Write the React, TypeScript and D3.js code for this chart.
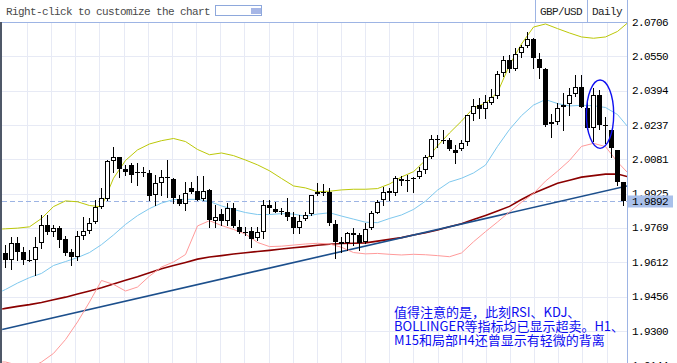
import React from "react";
import * as d3 from "d3";

const W = 677;
const H = 363;

// ---- candle data (GBP/USD daily) ----
const opens = [1.9657, 1.9623, 1.9699, 1.9661, 1.9623, 1.9623, 1.9699, 1.9782, 1.9752, 1.9767, 1.9719, 1.9661, 1.9635, 1.9734, 1.9756, 1.9797, 1.9866, 1.9901, 2.0075, 2.0090, 2.0037, 2.0055, 2.0023, 2.0022, 2.0017, 1.9919, 1.9972, 2.0001, 1.9990, 1.9899, 1.9876, 1.9949, 1.9938, 1.9899, 1.9942, 1.9802, 1.9832, 1.9802, 1.9858, 1.9772, 1.9752, 1.9756, 1.9725, 1.9752, 1.9873, 1.9855, 1.9846, 1.9843, 1.9817, 1.9767, 1.9808, 1.9832, 1.9922, 1.9934, 1.9934, 1.9787, 1.9706, 1.9699, 1.9747, 1.9737, 1.9706, 1.9767, 1.9838, 1.9896, 1.9929, 1.9929, 1.9990, 1.9987, 1.9996, 2.0002, 2.0033, 2.0093, 2.0172, 2.0169, 2.0169, 2.0124, 2.0127, 2.0161, 2.0287, 2.0328, 2.0309, 2.0339, 2.0368, 2.0472, 2.0533, 2.0491, 2.0563, 2.0597, 2.0629, 2.0536, 2.0492, 2.0242, 2.0252, 2.0318, 2.0333, 2.0378, 2.0411, 2.0313, 2.0222, 2.0374, 2.0237, 2.0215, 2.0124, 1.9979];
const highs = [1.9692, 1.9729, 1.9729, 1.9684, 1.9669, 1.9728, 1.9828, 1.9828, 1.9782, 1.9780, 1.9734, 1.9671, 1.9756, 1.9819, 1.9814, 1.9896, 1.9951, 2.0078, 2.0139, 2.0093, 2.0055, 2.0064, 2.0064, 2.0047, 2.0033, 2.0010, 2.0033, 2.0078, 1.9996, 1.9919, 1.9979, 1.9979, 2.0005, 2.0005, 1.9945, 1.9873, 1.9854, 1.9881, 1.9881, 1.9805, 1.9772, 1.9772, 1.9772, 1.9896, 1.9896, 1.9888, 1.9858, 1.9904, 1.9843, 1.9828, 1.9843, 1.9921, 1.9975, 1.9969, 1.9949, 1.9805, 1.9729, 1.9752, 1.9770, 1.9744, 1.9790, 1.9846, 1.9896, 1.9957, 1.9949, 2.0005, 2.0005, 2.0010, 2.0002, 2.0047, 2.0101, 2.0192, 2.0192, 2.0215, 2.0177, 2.0146, 2.0171, 2.0283, 2.0356, 2.0360, 2.0374, 2.0400, 2.0483, 2.0550, 2.0556, 2.0586, 2.0601, 2.0662, 2.0633, 2.0563, 2.0495, 2.0287, 2.0339, 2.0381, 2.0404, 2.0465, 2.0465, 2.0351, 2.0404, 2.0397, 2.0272, 2.0215, 2.0124, 1.9979];
const lows = [1.9593, 1.9582, 1.9623, 1.9605, 1.9618, 1.9555, 1.9676, 1.9741, 1.9730, 1.9682, 1.9644, 1.9600, 1.9623, 1.9719, 1.9747, 1.9791, 1.9860, 1.9896, 2.0025, 2.0002, 2.0010, 1.9979, 1.9964, 2.0005, 1.9896, 1.9873, 1.9919, 1.9910, 1.9882, 1.9873, 1.9851, 1.9929, 1.9894, 1.9896, 1.9772, 1.9772, 1.9782, 1.9782, 1.9772, 1.9744, 1.9737, 1.9684, 1.9714, 1.9722, 1.9838, 1.9840, 1.9832, 1.9805, 1.9744, 1.9747, 1.9805, 1.9828, 1.9919, 1.9919, 1.9782, 1.9631, 1.9661, 1.9669, 1.9691, 1.9669, 1.9702, 1.9763, 1.9835, 1.9873, 1.9896, 1.9919, 1.9964, 1.9938, 1.9934, 1.9995, 2.0017, 2.0087, 2.0139, 2.0155, 2.0124, 2.0066, 2.0124, 2.0146, 2.0260, 2.0271, 2.0269, 2.0333, 2.0358, 2.0460, 2.0480, 2.0488, 2.0548, 2.0594, 2.0495, 2.0450, 2.0233, 2.0184, 2.0242, 2.0215, 2.0283, 2.0369, 2.0318, 2.0218, 2.0166, 2.0218, 2.0154, 2.0093, 1.9964, 1.9873];
const closes = [1.9623, 1.9699, 1.9661, 1.9623, 1.9625, 1.9684, 1.9782, 1.9752, 1.9767, 1.9716, 1.9657, 1.9635, 1.9732, 1.9755, 1.9791, 1.9866, 1.9905, 2.0073, 2.0090, 2.0036, 2.0025, 2.0010, 2.0021, 2.0021, 1.9914, 1.9972, 1.9999, 1.9996, 1.9904, 1.9876, 1.9926, 1.9934, 1.9896, 1.9938, 1.9805, 1.9817, 1.9802, 1.9858, 1.9778, 1.9752, 1.9751, 1.9719, 1.9752, 1.9873, 1.9858, 1.9843, 1.9845, 1.9817, 1.9767, 1.9802, 1.9828, 1.9919, 1.9934, 1.9933, 1.9790, 1.9706, 1.9696, 1.9744, 1.9737, 1.9702, 1.9763, 1.9838, 1.9888, 1.9934, 1.9938, 1.9995, 1.9984, 1.9986, 1.9997, 2.0029, 2.0090, 2.0172, 2.0171, 2.0168, 2.0127, 2.0112, 2.0154, 2.0281, 2.0324, 2.0309, 2.0343, 2.0363, 2.0471, 2.0533, 2.0492, 2.0560, 2.0591, 2.0629, 2.0541, 2.0495, 2.0237, 2.0252, 2.0313, 2.0328, 2.0374, 2.0409, 2.0321, 2.0222, 2.0374, 2.0237, 2.0236, 2.0131, 1.9979, 1.9892];

// ---- indicator lines, sampled at every second bar (plus the chart edges) ----
const bandUpper = [1.9764, 1.9765, 1.9768, 1.9774, 1.9812, 1.9866, 1.9892, 1.9888, 1.9871, 1.9865, 1.9995, 2.0076, 2.0124, 2.0151, 2.0166, 2.0176, 2.0162, 2.0126, 2.0102, 2.0110, 2.0098, 2.0078, 2.0056, 2.0029, 1.9994, 1.9960, 1.9951, 1.9934, 1.9936, 1.9942, 1.9945, 1.9945, 1.9948, 1.9969, 2.0001, 2.0025, 2.0077, 2.0142, 2.0201, 2.0255, 2.0315, 2.0337, 2.0385, 2.0510, 2.0606, 2.0683, 2.0697, 2.0676, 2.0656, 2.0638, 2.0632, 2.0638, 2.0663, 2.0700];
const bandMiddle = [1.9482, 1.9489, 1.9518, 1.9543, 1.9562, 1.9598, 1.9616, 1.9634, 1.9657, 1.9693, 1.9737, 1.9785, 1.9825, 1.9857, 1.9882, 1.9898, 1.9899, 1.9899, 1.9889, 1.9869, 1.9853, 1.9839, 1.9830, 1.9830, 1.9834, 1.9832, 1.9822, 1.9832, 1.9838, 1.9823, 1.9809, 1.9795, 1.9793, 1.9812, 1.9828, 1.9853, 1.9891, 1.9941, 1.9978, 1.9995, 2.0019, 2.0055, 2.0140, 2.0217, 2.0280, 2.0328, 2.0353, 2.0335, 2.0324, 2.0327, 2.0325, 2.0317, 2.0285, 2.0233];
const bandLower = [1.9159, 1.9159, 1.9145, 1.9132, 1.9159, 1.9198, 1.9261, 1.9341, 1.9432, 1.9530, 1.9512, 1.9482, 1.9500, 1.9550, 1.9591, 1.9614, 1.9648, 1.9778, 1.9802, 1.9780, 1.9762, 1.9741, 1.9703, 1.9684, 1.9686, 1.9691, 1.9696, 1.9699, 1.9696, 1.9681, 1.9657, 1.9651, 1.9653, 1.9649, 1.9646, 1.9649, 1.9647, 1.9643, 1.9638, 1.9655, 1.9706, 1.9752, 1.9796, 1.9842, 1.9886, 1.9926, 1.9982, 2.0027, 2.0076, 2.0140, 2.0154, 2.0139, 2.0069, 2.0023];
const longMA = [1.9400, 1.9403, 1.9412, 1.9420, 1.9430, 1.9442, 1.9454, 1.9468, 1.9482, 1.9497, 1.9514, 1.9531, 1.9547, 1.9565, 1.9583, 1.9598, 1.9612, 1.9627, 1.9637, 1.9643, 1.9650, 1.9656, 1.9662, 1.9667, 1.9673, 1.9679, 1.9684, 1.9690, 1.9695, 1.9698, 1.9699, 1.9701, 1.9709, 1.9717, 1.9725, 1.9737, 1.9747, 1.9760, 1.9774, 1.9788, 1.9807, 1.9826, 1.9846, 1.9867, 1.9898, 1.9927, 1.9950, 1.9972, 1.9986, 2.0000, 2.0007, 2.0014, 2.0014, 2.0003];
const sampleIdx = [-0.55, ...d3.range(0, 103, 2), 103.6];

const trendIdx = [-0.55, 103.6];
const trendVals = [1.9307, 1.9960];

const ellipseIdx = [96.9, 101.45];
const ellipseVals = [2.0442, 2.0131];

const tickLabels = ["2.0706", "2.0550", "2.0394", "2.0237", "2.0081", "1.9925", "1.9769", "1.9612", "1.9456", "1.9300", "1.9144"];
const lastPrice = 1.9892;
const symbol = "GBP/USD";
const period = "Daily";
const hint = "Right-click to customize the chart";
const noteLines = [
  "值得注意的是，此刻RSI、KDJ、",
  "BOLLINGER等指标均已显示超卖。H1、",
  "M15和局部H4还曾显示有轻微的背离",
];

const L = 2, R = 627, T = 22, B = 363;
const MONO = "'Liberation Mono', 'DejaVu Sans Mono', monospace";

export default function App() {
  const x = d3.scaleLinear().domain([0, 103]).range([5, 623]);
  const y = d3.scaleLinear().domain([1.93, 2.0706]).range([331, 22]);
  const gx = d3.scaleLinear().domain([0, 24]).range([27, 606.6]);

  const mkLine = (vals: number[], idx: number[]) =>
    d3.line<number>().x((_, i) => x(idx[i]) + 0.5).y((v) => y(v))(vals) || "";

  const lastY = Math.round(y(lastPrice)) + 0.5;

  const ex0 = x(ellipseIdx[0]), ex1 = x(ellipseIdx[1]);
  const ey0 = y(ellipseVals[0]), ey1 = y(ellipseVals[1]);

  const monoStyle = { fontFamily: MONO, fontSize: 11, letterSpacing: -0.6 } as const;

  return (
    <svg width={W} height={H} style={{ position: "absolute", left: 0, top: 0, background: "#fff" }}>
      <defs>
        <clipPath id="plot">
          <rect x={L} y={T} width={R - L} height={B - T} />
        </clipPath>
      </defs>
      {/* grid */}
      <g shapeRendering="crispEdges" stroke="#e7eaf5">
        {tickLabels.map((t) => (
          <line key={t} x1={L} x2={R} y1={Math.round(y(+t)) + 0.5} y2={Math.round(y(+t)) + 0.5} />
        ))}
        {d3.range(25).map((k) => (
          <line key={k} x1={Math.round(gx(k)) + 0.5} x2={Math.round(gx(k)) + 0.5} y1={T} y2={B} />
        ))}
      </g>
      <line x1={L} x2={R} y1={lastY} y2={lastY} stroke="#9db4e4" strokeDasharray="5,3" shapeRendering="crispEdges" />

      <g clipPath="url(#plot)" fill="none">
        <path d={mkLine(longMA, sampleIdx)} stroke="#8b0000" strokeWidth={1.6} />
        <path d={mkLine(trendVals, trendIdx)} stroke="#1c4f8c" strokeWidth={1.6} />
        <path d={mkLine(bandLower, sampleIdx)} stroke="#ff9a9a" strokeWidth={1} />
        <path d={mkLine(bandMiddle, sampleIdx)} stroke="#7ec8ee" strokeWidth={1} />
        <path d={mkLine(bandUpper, sampleIdx)} stroke="#bcc808" strokeWidth={1} />
      </g>

      {/* candles */}
      <g shapeRendering="crispEdges" clipPath="url(#plot)">
        {opens.map((o, i) => {
          const c = closes[i];
          const cx = Math.round(x(i)) + 0.5;
          const top = Math.round(y(Math.max(o, c)));
          const bot = Math.round(y(Math.min(o, c)));
          const bull = c >= o;
          return (
            <g key={i}>
              <line x1={cx} x2={cx} y1={Math.round(y(highs[i]))} y2={Math.round(y(lows[i])) + 1} stroke="#000" />
              {bot - top < 2 ? (
                <line x1={cx - 2.5} x2={cx + 2.5} y1={top + 0.5} y2={top + 0.5} stroke="#000" />
              ) : (
                <rect x={cx - 2} y={top + 0.5} width={4} height={bot - top - 1} fill={bull ? "#fff" : "#000"} stroke="#000" />
              )}
            </g>
          );
        })}
      </g>

      <ellipse cx={(ex0 + ex1) / 2} cy={(ey0 + ey1) / 2} rx={(ex1 - ex0) / 2} ry={(ey1 - ey0) / 2} fill="none" stroke="#1010f0" strokeWidth={1.4} />

      {/* frame */}
      <rect x={0} y={T} width={2} height={B - T} fill="#4f5868" />
      <g shapeRendering="crispEdges" stroke="#9db4e4">
        <line x1={L} x2={R} y1={T + 0.5} y2={T + 0.5} />
        <line x1={R + 0.5} x2={R + 0.5} y1={0} y2={H} />
        <line x1={535.5} x2={535.5} y1={0} y2={T} />
        <line x1={587.5} x2={587.5} y1={0} y2={T} />
      </g>

      {/* header */}
      <text x={6} y={15} {...monoStyle} fill="#4a4a4a">{hint}</text>
      <rect x={215.5} y={5.5} width={46} height={10} fill="#fff" stroke="#8ea8dc" shapeRendering="crispEdges" />
      <rect x={251} y={8} width={10} height={6} fill="#a6b6e6" />
      <text x={561} y={15} textAnchor="middle" {...monoStyle} fill="#222">{symbol}</text>
      <text x={607} y={15} textAnchor="middle" {...monoStyle} fill="#222">{period}</text>

      {/* price axis */}
      {tickLabels.map((t) => (
        <text key={t} x={632} y={y(+t) + 3.5} {...monoStyle} fill="#000">{t}</text>
      ))}
      <rect x={628} y={lastY - 6} width={45} height={12} fill="#a9c0ea" />
      <text x={632} y={y(lastPrice) + 4} {...monoStyle} fill="#000">{lastPrice.toFixed(4)}</text>

      {/* annotation */}
      {noteLines.map((s, i) => (
        <text key={i} x={394} y={317 + i * 14} fontFamily="'Noto Sans CJK SC', sans-serif" fontSize={13} fill="#0c0cf0">{s}</text>
      ))}
    </svg>
  );
}
